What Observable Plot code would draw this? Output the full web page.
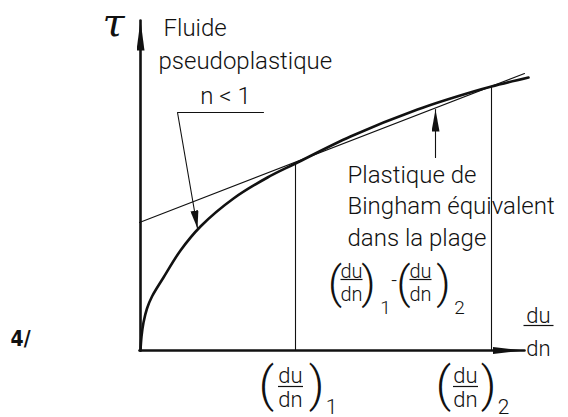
<!DOCTYPE html>
<html><head><meta charset="utf-8">
<script src="https://cdn.jsdelivr.net/npm/d3@7"></script>
<script src="https://cdn.jsdelivr.net/npm/@observablehq/plot@0.6"></script>
<style>body{margin:0;background:#fff;} svg{display:block}</style>
</head><body><div id="chart"></div>
<script>
// Pseudoplastic flow curve: shear rate du/dn (x) vs shear stress tau (y), arbitrary units
const curveRate   = [1, 2, 4, 7.5, 12.5, 24, 41, 61, 94, 128, 156, 211, 278, 334, 352, 389];
const curveStress = [0, 14, 28, 42, 54, 73, 100, 124, 152, 173, 187, 214, 241, 259, 264, 273];
// Equivalent Bingham plastic line (end points)
const binghamRate   = [0, 385];
const binghamStress = [128, 277];
// Shear-rate range (du/dn)1 .. (du/dn)2 and stress where the verticals meet the curve
const rangeRate   = [156, 352];
const rangeStress = [187, 264];
// Texts
const yLabel = "τ";
const pseudoLines = ["Fluide", "pseudoplastique"];
const pseudoNote = "n < 1";
const binghamLines = ["Plastique de", "Bingham équivalent", "dans la plage"];
const figLabel = "4/";
const num = "du", den = "dn";

const INK = "#111";
const FONT = "Roboto, 'DejaVu Sans', sans-serif";

function filledArrow(len, halfW) {
  return (color, context) => {
    const doc = (context && context.document) || document;
    const m = d3.select(doc.createElementNS("http://www.w3.org/2000/svg", "marker"))
      .attr("viewBox", `${-len} ${-halfW} ${len} ${2 * halfW}`)
      .attr("markerWidth", len).attr("markerHeight", 2 * halfW)
      .attr("markerUnits", "userSpaceOnUse")
      .attr("orient", "auto")
      .attr("refX", 0).attr("refY", 0)
      .attr("fill", color).attr("stroke", "none");
    m.append("path").attr("d", `M${-len},${-halfW}L0,0L${-len},${halfW}Z`);
    return m.node();
  };
}

const T = (data, o) => Plot.text(data, {x: "x", y: "y", text: "t", fontFamily: FONT, fontWeight: 300,
  fill: INK, lineAnchor: "bottom", textAnchor: "start", ...o});

function frac(f) {
  return [
    T([{x: f.cx, y: f.num, t: num}, {x: f.cx, y: f.den, t: den}], {textAnchor: "middle", fontSize: f.size}),
    Plot.link([f], {x1: d => d.cx - d.w / 2, x2: d => d.cx + d.w / 2, y1: "bar", y2: "bar", stroke: INK, strokeWidth: 1.2}),
    f.pl == null ? null : T([{x: f.pl, y: f.py, t: "("}, {x: f.pr, y: f.py, t: ")"}],
      {textAnchor: "middle", lineAnchor: "middle", fontSize: f.psize}),
    f.sub == null ? null : T([{x: f.sx, y: f.sy, t: f.sub}], {textAnchor: "middle", fontSize: f.size * 0.95})
  ];
}

const curve = curveRate.map((x, i) => ({x, y: curveStress[i]}));
const bingham = binghamRate.map((x, i) => ({x, y: binghamStress[i]}));
const ranges = rangeRate.map((x, i) => ({x, y: rangeStress[i]}));

const plot = Plot.plot({
  width: 568, height: 417,
  marginLeft: 139, marginRight: 43, marginTop: 20, marginBottom: 67,
  x: {domain: [0, 386], axis: null},
  y: {domain: [0, 330], axis: null},
  style: {background: "white", overflow: "visible"},
  marks: [
    // verticals at (du/dn)1 and (du/dn)2
    Plot.ruleX(ranges, {x: "x", y1: 0, y2: "y", stroke: INK, strokeWidth: 1.1}),
    // Bingham line
    Plot.line(bingham, {x: "x", y: "y", stroke: INK, strokeWidth: 1.1}),
    // pseudoplastic curve
    Plot.line(curve, {x: "x", y: "y", curve: "catmull-rom", stroke: INK, strokeWidth: 2.6}),
    // axes with arrows
    Plot.line([{x: 1, y: 0}, {x: 1, y: 330}], {x: "x", y: "y", stroke: INK, strokeWidth: 2.6, markerEnd: filledArrow(30, 4)}),
    Plot.line([{x: 0, y: 0}, {x: 385, y: 0}], {x: "x", y: "y", stroke: INK, strokeWidth: 2.6, markerEnd: filledArrow(32, 3.5)}),
    // leader for "n < 1"
    Plot.line([{x: 124, y: 238}, {x: 38, y: 238}, {x: 58, y: 122}], {x: "x", y: "y", stroke: INK, strokeWidth: 1.1, curve: "linear", markerEnd: filledArrow(18, 4)}),
    // arrow to Bingham line
    Plot.line([{x: 296, y: 193}, {x: 296, y: 241}], {x: "x", y: "y", stroke: INK, strokeWidth: 1.1, markerEnd: filledArrow(22, 4)}),
    // texts
    T([{x: -37, y: 315, t: yLabel}], {fontFamily: "'DejaVu Serif', serif", fontStyle: "italic", fontWeight: 400, fontSize: 40}),
    T(pseudoLines.map((t, i) => ({x: [24, 19][i], y: [315, 282][i], t})), {fontSize: 24}),
    T([{x: 86, y: 247, t: pseudoNote}], {textAnchor: "middle", fontSize: 24}),
    T(binghamLines.map((t, i) => ({x: 208, y: [168, 137, 105][i], t})), {fontSize: 24}),
    T([{x: -129, y: 5, t: figLabel}], {fontFamily: "'DejaVu Sans Condensed', 'DejaVu Sans', sans-serif", fontWeight: 700, fontSize: 21}),
    // middle fraction (du/dn)1 - (du/dn)2
    ...frac({cx: 212, num: 73, bar: 71, den: 50, w: 22, pl: 195.5, pr: 229, py: 67, psize: 44, sub: "1", sx: 246, sy: 37, size: 20}),
    T([{x: 254.5, y: 64, t: "-"}], {textAnchor: "middle", fontSize: 20}),
    ...frac({cx: 281, num: 73, bar: 71, den: 50, w: 22, pl: 264, pr: 304, py: 67, psize: 44, sub: "2", sx: 320, sy: 37, size: 20}),
    // bottom fractions
    ...frac({cx: 151, num: -32, bar: -36, den: -56, w: 25, pl: 127, pr: 177, py: -35, psize: 48, sub: "1", sx: 192, sy: -63, size: 22}),
    ...frac({cx: 326, num: -32, bar: -36, den: -56, w: 25, pl: 304, pr: 349, py: -35, psize: 48, sub: "2", sx: 364, sy: -63, size: 22}),
    // axis label du/dn
    ...frac({cx: 399, num: 28, bar: 25, den: -5, w: 30, size: 22})
  ].filter(Boolean)
});
document.getElementById("chart").append(plot);
</script>
</body></html>
